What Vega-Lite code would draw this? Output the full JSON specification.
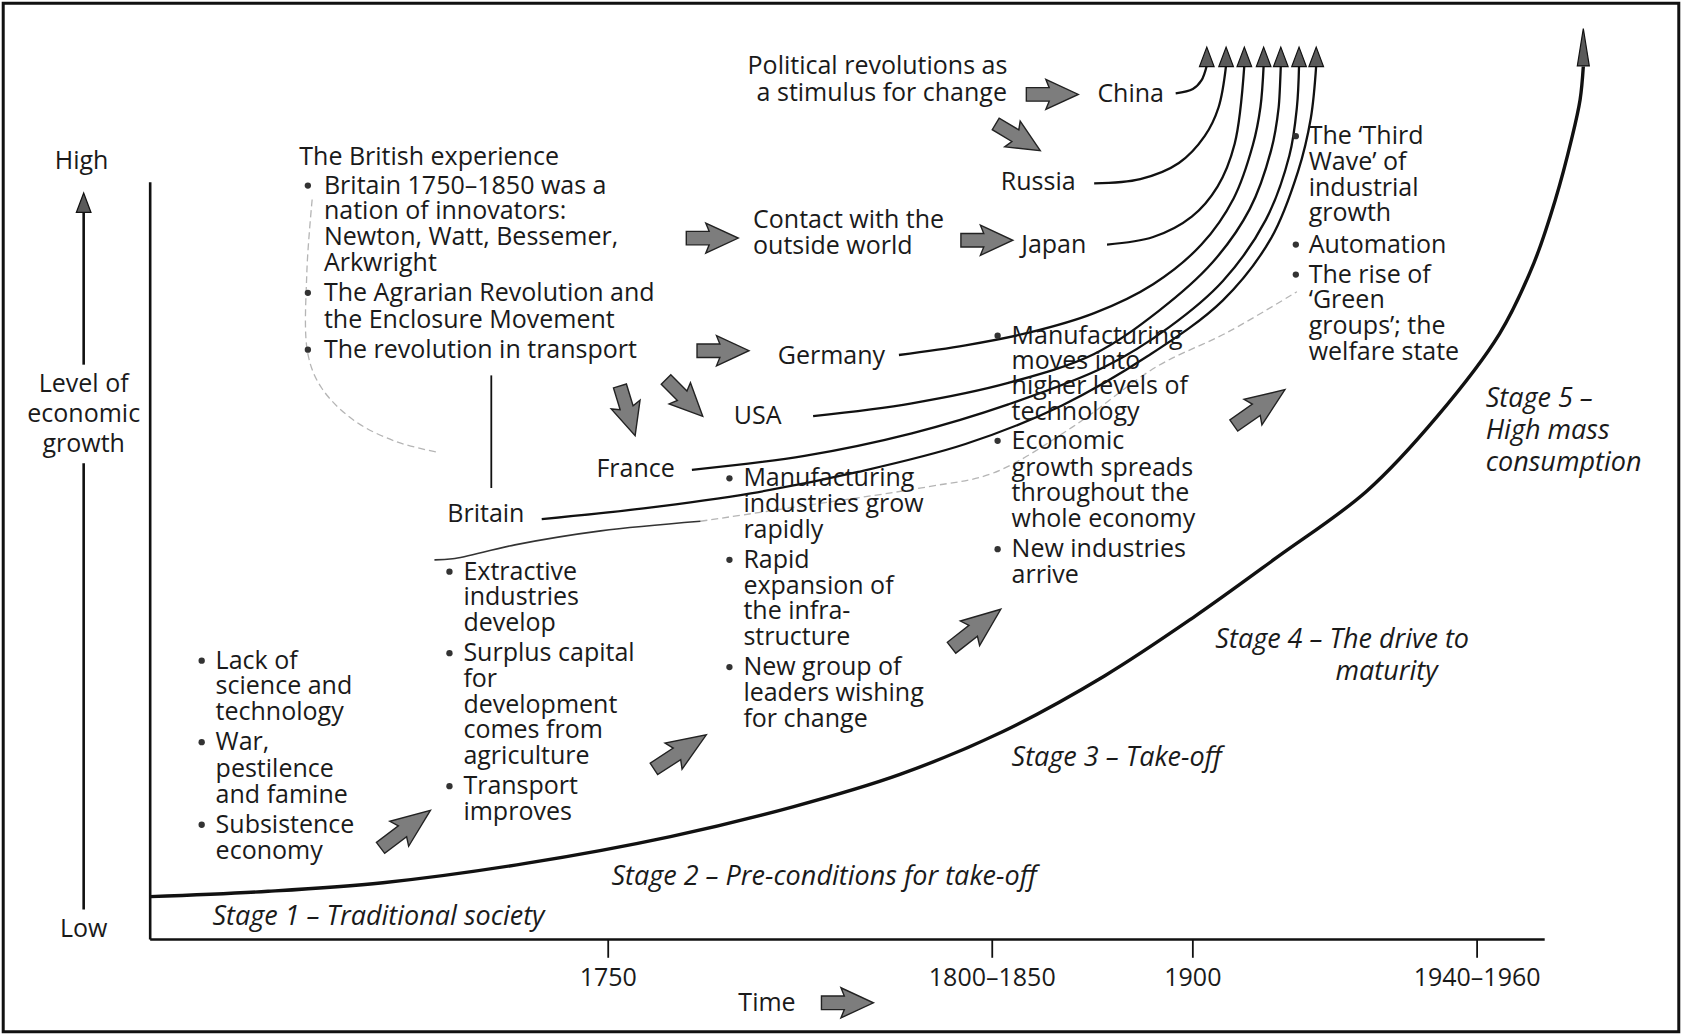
{
  "$schema": "https://vega.github.io/schema/vega-lite/v6.json",
  "width": 1682,
  "height": 1035,
  "autosize": {"type": "fit", "contains": "padding"},
  "padding": 0,
  "background": "white",
  "config": {"view": {"stroke": null}},
  "datasets": {
    "frame": [{"x": 3, "y": 3, "x2": 1565, "y2": 962}],
    "axisLines": [
      {"x": 140, "y": 170, "x2": 140, "y2": 876},
      {"x": 140, "y": 876, "x2": 1440, "y2": 876},
      {"x": 78, "y": 198, "x2": 78, "y2": 340},
      {"x": 78, "y": 432, "x2": 78, "y2": 848}
    ],
    "thinLines": [
      {"x": 567, "y": 876, "x2": 567, "y2": 893},
      {"x": 925, "y": 876, "x2": 925, "y2": 893},
      {"x": 1112, "y": 876, "x2": 1112, "y2": 893},
      {"x": 1377, "y": 876, "x2": 1377, "y2": 893},
      {"x": 458, "y": 350, "x2": 458, "y2": 455}
    ],
    "growth": [
      {"o": 1, "x": 140, "y": 836}, {"o": 2, "x": 250, "y": 831}, {"o": 3, "x": 357, "y": 823},
      {"o": 4, "x": 490, "y": 805}, {"o": 5, "x": 625, "y": 780}, {"o": 6, "x": 740, "y": 752},
      {"o": 7, "x": 839, "y": 722}, {"o": 8, "x": 935, "y": 682}, {"o": 9, "x": 1030, "y": 630},
      {"o": 10, "x": 1112, "y": 576}, {"o": 11, "x": 1190, "y": 520}, {"o": 12, "x": 1274, "y": 458},
      {"o": 13, "x": 1340, "y": 388}, {"o": 14, "x": 1398, "y": 311}, {"o": 15, "x": 1430, "y": 245},
      {"o": 16, "x": 1450, "y": 186}, {"o": 17, "x": 1465, "y": 130}, {"o": 18, "x": 1473, "y": 93},
      {"o": 19, "x": 1476, "y": 62}
    ],
    "countries": [
      {"id": "China", "o": 1, "x": 1096, "y": 87}, {"id": "China", "o": 2, "x": 1112, "y": 83},
      {"id": "China", "o": 3, "x": 1120, "y": 75}, {"id": "China", "o": 4, "x": 1125, "y": 61},
      {"id": "Russia", "o": 1, "x": 1020, "y": 171}, {"id": "Russia", "o": 2, "x": 1063, "y": 167},
      {"id": "Russia", "o": 3, "x": 1099, "y": 152}, {"id": "Russia", "o": 4, "x": 1123, "y": 127},
      {"id": "Russia", "o": 5, "x": 1136, "y": 100}, {"id": "Russia", "o": 6, "x": 1143, "y": 61},
      {"id": "Japan", "o": 1, "x": 1032, "y": 228}, {"id": "Japan", "o": 2, "x": 1075, "y": 221},
      {"id": "Japan", "o": 3, "x": 1111, "y": 202}, {"id": "Japan", "o": 4, "x": 1135, "y": 174},
      {"id": "Japan", "o": 5, "x": 1151, "y": 134}, {"id": "Japan", "o": 6, "x": 1160, "y": 61},
      {"id": "Germany", "o": 1, "x": 838, "y": 331}, {"id": "Germany", "o": 2, "x": 900, "y": 322},
      {"id": "Germany", "o": 3, "x": 960, "y": 310}, {"id": "Germany", "o": 4, "x": 1020, "y": 292},
      {"id": "Germany", "o": 5, "x": 1075, "y": 265}, {"id": "Germany", "o": 6, "x": 1120, "y": 228},
      {"id": "Germany", "o": 7, "x": 1150, "y": 185}, {"id": "Germany", "o": 8, "x": 1168, "y": 135},
      {"id": "Germany", "o": 9, "x": 1175, "y": 100}, {"id": "Germany", "o": 10, "x": 1178, "y": 61},
      {"id": "USA", "o": 1, "x": 758, "y": 388}, {"id": "USA", "o": 2, "x": 850, "y": 376},
      {"id": "USA", "o": 3, "x": 940, "y": 357}, {"id": "USA", "o": 4, "x": 1020, "y": 330},
      {"id": "USA", "o": 5, "x": 1080, "y": 290}, {"id": "USA", "o": 6, "x": 1130, "y": 245},
      {"id": "USA", "o": 7, "x": 1165, "y": 195}, {"id": "USA", "o": 8, "x": 1185, "y": 140},
      {"id": "USA", "o": 9, "x": 1192, "y": 100}, {"id": "USA", "o": 10, "x": 1194, "y": 61},
      {"id": "France", "o": 1, "x": 645, "y": 438}, {"id": "France", "o": 2, "x": 750, "y": 425},
      {"id": "France", "o": 3, "x": 850, "y": 404}, {"id": "France", "o": 4, "x": 940, "y": 377},
      {"id": "France", "o": 5, "x": 1030, "y": 342}, {"id": "France", "o": 6, "x": 1090, "y": 305},
      {"id": "France", "o": 7, "x": 1140, "y": 262}, {"id": "France", "o": 8, "x": 1180, "y": 205},
      {"id": "France", "o": 9, "x": 1202, "y": 145}, {"id": "France", "o": 10, "x": 1209, "y": 100},
      {"id": "France", "o": 11, "x": 1211, "y": 61},
      {"id": "Britain", "o": 1, "x": 505, "y": 484}, {"id": "Britain", "o": 2, "x": 600, "y": 474},
      {"id": "Britain", "o": 3, "x": 700, "y": 460}, {"id": "Britain", "o": 4, "x": 800, "y": 440},
      {"id": "Britain", "o": 5, "x": 900, "y": 414}, {"id": "Britain", "o": 6, "x": 990, "y": 378},
      {"id": "Britain", "o": 7, "x": 1070, "y": 332}, {"id": "Britain", "o": 8, "x": 1140, "y": 280},
      {"id": "Britain", "o": 9, "x": 1185, "y": 222}, {"id": "Britain", "o": 10, "x": 1210, "y": 160},
      {"id": "Britain", "o": 11, "x": 1222, "y": 110}, {"id": "Britain", "o": 12, "x": 1227, "y": 61}
    ],
    "bracket": [
      {"o": 1, "x": 405, "y": 522}, {"o": 2, "x": 422, "y": 521}, {"o": 3, "x": 480, "y": 508},
      {"o": 4, "x": 560, "y": 495}, {"o": 5, "x": 653, "y": 486}
    ],
    "faint": [
      {"id": "a", "o": 1, "x": 291, "y": 186}, {"id": "a", "o": 2, "x": 286, "y": 255},
      {"id": "a", "o": 3, "x": 287, "y": 330}, {"id": "a", "o": 4, "x": 300, "y": 362},
      {"id": "a", "o": 5, "x": 330, "y": 392}, {"id": "a", "o": 6, "x": 370, "y": 412},
      {"id": "a", "o": 7, "x": 410, "y": 422},
      {"id": "b", "o": 1, "x": 653, "y": 486}, {"id": "b", "o": 2, "x": 760, "y": 470},
      {"id": "b", "o": 3, "x": 864, "y": 454}, {"id": "b", "o": 4, "x": 926, "y": 441},
      {"id": "b", "o": 5, "x": 1000, "y": 398}, {"id": "b", "o": 6, "x": 1078, "y": 342},
      {"id": "b", "o": 7, "x": 1144, "y": 310}, {"id": "b", "o": 8, "x": 1209, "y": 272}
    ],
    "heads": [
      {"x": 1125, "y": 53}, {"x": 1143, "y": 53}, {"x": 1160, "y": 53}, {"x": 1178, "y": 53},
      {"x": 1194, "y": 53}, {"x": 1211, "y": 53}, {"x": 1227, "y": 53}, {"x": 78, "y": 189}
    ],
    "bigHead": [{"x": 1476, "y": 44}],
    "arrowsS": [
      {"x": 981, "y": 88, "dir": 90},
      {"x": 949, "y": 128, "dir": 121},
      {"x": 664, "y": 222, "dir": 90},
      {"x": 920, "y": 224, "dir": 90},
      {"x": 674, "y": 327, "dir": 90},
      {"x": 585, "y": 383, "dir": 163},
      {"x": 638, "y": 371, "dir": 135},
      {"x": 790, "y": 935, "dir": 90}
    ],
    "arrowsL": [
      {"x": 378, "y": 773, "dir": 53},
      {"x": 634, "y": 701, "dir": 57},
      {"x": 910, "y": 586, "dir": 52},
      {"x": 1174, "y": 380, "dir": 55}
    ],
    "bullets": [
      {"x": 287, "y": 173}, {"x": 287, "y": 273}, {"x": 287, "y": 326},
      {"x": 188, "y": 616}, {"x": 188, "y": 692}, {"x": 188, "y": 769},
      {"x": 419, "y": 533}, {"x": 419, "y": 609}, {"x": 419, "y": 733},
      {"x": 680, "y": 446}, {"x": 680, "y": 522}, {"x": 680, "y": 622},
      {"x": 930, "y": 313}, {"x": 930, "y": 411}, {"x": 930, "y": 512},
      {"x": 1208, "y": 127}, {"x": 1208, "y": 228}, {"x": 1208, "y": 256}
    ],
    "textLeft": [
      {"x": 279, "y": 146, "t": "The British experience"},
      {"x": 302, "y": 173, "t": "Britain 1750–1850 was a"},
      {"x": 302, "y": 197, "t": "nation of innovators:"},
      {"x": 302, "y": 221, "t": "Newton, Watt, Bessemer,"},
      {"x": 302, "y": 245, "t": "Arkwright"},
      {"x": 302, "y": 273, "t": "The Agrarian Revolution and"},
      {"x": 302, "y": 298, "t": "the Enclosure Movement"},
      {"x": 302, "y": 326, "t": "The revolution in transport"},
      {"x": 702, "y": 205, "t": "Contact with the"},
      {"x": 702, "y": 229, "t": "outside world"},
      {"x": 1023, "y": 88, "t": "China"},
      {"x": 933, "y": 170, "t": "Russia"},
      {"x": 952, "y": 228, "t": "Japan"},
      {"x": 725, "y": 332, "t": "Germany"},
      {"x": 684, "y": 388, "t": "USA"},
      {"x": 556, "y": 437, "t": "France"},
      {"x": 417, "y": 479, "t": "Britain"},
      {"x": 201, "y": 616, "t": "Lack of"},
      {"x": 201, "y": 640, "t": "science and"},
      {"x": 201, "y": 664, "t": "technology"},
      {"x": 201, "y": 692, "t": "War,"},
      {"x": 201, "y": 717, "t": "pestilence"},
      {"x": 201, "y": 741, "t": "and famine"},
      {"x": 201, "y": 769, "t": "Subsistence"},
      {"x": 201, "y": 793, "t": "economy"},
      {"x": 432, "y": 533, "t": "Extractive"},
      {"x": 432, "y": 557, "t": "industries"},
      {"x": 432, "y": 581, "t": "develop"},
      {"x": 432, "y": 609, "t": "Surplus capital"},
      {"x": 432, "y": 633, "t": "for"},
      {"x": 432, "y": 657, "t": "development"},
      {"x": 432, "y": 681, "t": "comes from"},
      {"x": 432, "y": 705, "t": "agriculture"},
      {"x": 432, "y": 733, "t": "Transport"},
      {"x": 432, "y": 757, "t": "improves"},
      {"x": 693, "y": 446, "t": "Manufacturing"},
      {"x": 693, "y": 470, "t": "industries grow"},
      {"x": 693, "y": 494, "t": "rapidly"},
      {"x": 693, "y": 522, "t": "Rapid"},
      {"x": 693, "y": 546, "t": "expansion of"},
      {"x": 693, "y": 570, "t": "the infra-"},
      {"x": 693, "y": 594, "t": "structure"},
      {"x": 693, "y": 622, "t": "New group of"},
      {"x": 693, "y": 646, "t": "leaders wishing"},
      {"x": 693, "y": 670, "t": "for change"},
      {"x": 943, "y": 313, "t": "Manufacturing"},
      {"x": 943, "y": 337, "t": "moves into"},
      {"x": 943, "y": 360, "t": "higher levels of"},
      {"x": 943, "y": 384, "t": "technology"},
      {"x": 943, "y": 411, "t": "Economic"},
      {"x": 943, "y": 436, "t": "growth spreads"},
      {"x": 943, "y": 460, "t": "throughout the"},
      {"x": 943, "y": 484, "t": "whole economy"},
      {"x": 943, "y": 512, "t": "New industries"},
      {"x": 943, "y": 536, "t": "arrive"},
      {"x": 1220, "y": 127, "t": "The ‘Third"},
      {"x": 1220, "y": 151, "t": "Wave’ of"},
      {"x": 1220, "y": 175, "t": "industrial"},
      {"x": 1220, "y": 199, "t": "growth"},
      {"x": 1220, "y": 228, "t": "Automation"},
      {"x": 1220, "y": 256, "t": "The rise of"},
      {"x": 1220, "y": 280, "t": "‘Green"},
      {"x": 1220, "y": 304, "t": "groups’; the"},
      {"x": 1220, "y": 328, "t": "welfare state"}
    ],
    "textCenter": [
      {"x": 76, "y": 150, "t": "High"},
      {"x": 78, "y": 358, "t": "Level of"},
      {"x": 78, "y": 386, "t": "economic"},
      {"x": 78, "y": 414, "t": "growth"},
      {"x": 78, "y": 866, "t": "Low"},
      {"x": 818, "y": 62, "t": "Political revolutions as"},
      {"x": 822, "y": 87, "t": "a stimulus for change"},
      {"x": 567, "y": 912, "t": "1750"},
      {"x": 925, "y": 912, "t": "1800–1850"},
      {"x": 1112, "y": 912, "t": "1900"},
      {"x": 1377, "y": 912, "t": "1940–1960"},
      {"x": 715, "y": 935, "t": "Time"}
    ],
    "textItalic": [
      {"x": 198, "y": 855, "t": "Stage 1 – Traditional society"},
      {"x": 570, "y": 818, "t": "Stage 2 – Pre-conditions for take-off"},
      {"x": 943, "y": 707, "t": "Stage 3 – Take-off"},
      {"x": 1133, "y": 597, "t": "Stage 4 – The drive to"},
      {"x": 1245, "y": 627, "t": "maturity"},
      {"x": 1385, "y": 372, "t": "Stage 5 –"},
      {"x": 1385, "y": 402, "t": "High mass"},
      {"x": 1385, "y": 432, "t": "consumption"}
    ]
  },
  "encoding": {
    "x": {"field": "x", "type": "quantitative", "scale": {"domain": [0, 1568], "nice": false, "zero": false}, "axis": null},
    "y": {"field": "y", "type": "quantitative", "scale": {"domain": [0, 965], "reverse": true, "nice": false, "zero": false}, "axis": null}
  },
  "layer": [
    {
      "data": {"name": "frame"},
      "mark": {"type": "rect", "fill": null, "stroke": "#111", "strokeWidth": 3},
      "encoding": {"x2": {"field": "x2"}, "y2": {"field": "y2"}}
    },
    {
      "data": {"name": "faint"},
      "mark": {"type": "line", "interpolate": "catmull-rom", "stroke": "#b5b5b5", "strokeWidth": 1.3, "strokeDash": [7, 4]},
      "encoding": {"detail": {"field": "id"}, "order": {"field": "o", "type": "quantitative"}}
    },
    {
      "data": {"name": "axisLines"},
      "mark": {"type": "rule", "color": "#111", "strokeWidth": 2.6},
      "encoding": {"x2": {"field": "x2"}, "y2": {"field": "y2"}}
    },
    {
      "data": {"name": "thinLines"},
      "mark": {"type": "rule", "color": "#111", "strokeWidth": 1.8},
      "encoding": {"x2": {"field": "x2"}, "y2": {"field": "y2"}}
    },
    {
      "data": {"name": "bracket"},
      "mark": {"type": "line", "interpolate": "catmull-rom", "color": "#333", "strokeWidth": 1.6},
      "encoding": {"order": {"field": "o", "type": "quantitative"}}
    },
    {
      "data": {"name": "growth"},
      "mark": {"type": "line", "interpolate": "catmull-rom", "color": "#111", "strokeWidth": 3.4},
      "encoding": {"order": {"field": "o", "type": "quantitative"}}
    },
    {
      "data": {"name": "countries"},
      "mark": {"type": "line", "interpolate": "catmull-rom", "color": "#111", "strokeWidth": 2.3},
      "encoding": {"detail": {"field": "id"}, "order": {"field": "o", "type": "quantitative"}}
    },
    {
      "data": {"name": "heads"},
      "mark": {"type": "point", "shape": "M0,-1L0.75,1L-0.75,1Z", "filled": true, "fill": "#5a5a5a", "stroke": "#111", "strokeWidth": 1.2, "opacity": 1, "size": 380}
    },
    {
      "data": {"name": "bigHead"},
      "mark": {"type": "point", "shape": "M0,-1L0.32,1L-0.32,1Z", "filled": true, "fill": "#5a5a5a", "stroke": "#111", "strokeWidth": 1.2, "opacity": 1, "size": 1400}
    },
    {
      "data": {"name": "arrowsS"},
      "mark": {"type": "point", "shape": "M-0.26,1L0.26,1L0.26,0.12L0.58,0.25L0,-1L-0.58,0.25L-0.26,0.12Z", "filled": true, "fill": "#7d7d7d", "stroke": "#222", "strokeWidth": 1.4, "opacity": 1, "size": 2700},
      "encoding": {"angle": {"field": "dir", "type": "quantitative", "scale": null}}
    },
    {
      "data": {"name": "arrowsL"},
      "mark": {"type": "point", "shape": "M-0.22,1L0.22,1L0.22,0.12L0.5,0.25L0,-1L-0.5,0.25L-0.22,0.12Z", "filled": true, "fill": "#7d7d7d", "stroke": "#222", "strokeWidth": 1.4, "opacity": 1, "size": 3900},
      "encoding": {"angle": {"field": "dir", "type": "quantitative", "scale": null}}
    },
    {
      "data": {"name": "bullets"},
      "mark": {"type": "point", "shape": "circle", "filled": true, "color": "#333", "opacity": 1, "size": 40}
    },
    {
      "data": {"name": "textLeft"},
      "mark": {"type": "text", "align": "left", "baseline": "middle", "font": "Open Sans", "fontSize": 25, "color": "#1a1a1a"},
      "encoding": {"text": {"field": "t"}}
    },
    {
      "data": {"name": "textCenter"},
      "mark": {"type": "text", "align": "center", "baseline": "middle", "font": "Open Sans", "fontSize": 25, "color": "#1a1a1a"},
      "encoding": {"text": {"field": "t"}}
    },
    {
      "data": {"name": "textItalic"},
      "mark": {"type": "text", "align": "left", "baseline": "middle", "font": "Open Sans", "fontStyle": "italic", "fontSize": 27, "color": "#1a1a1a"},
      "encoding": {"text": {"field": "t"}}
    }
  ]
}
